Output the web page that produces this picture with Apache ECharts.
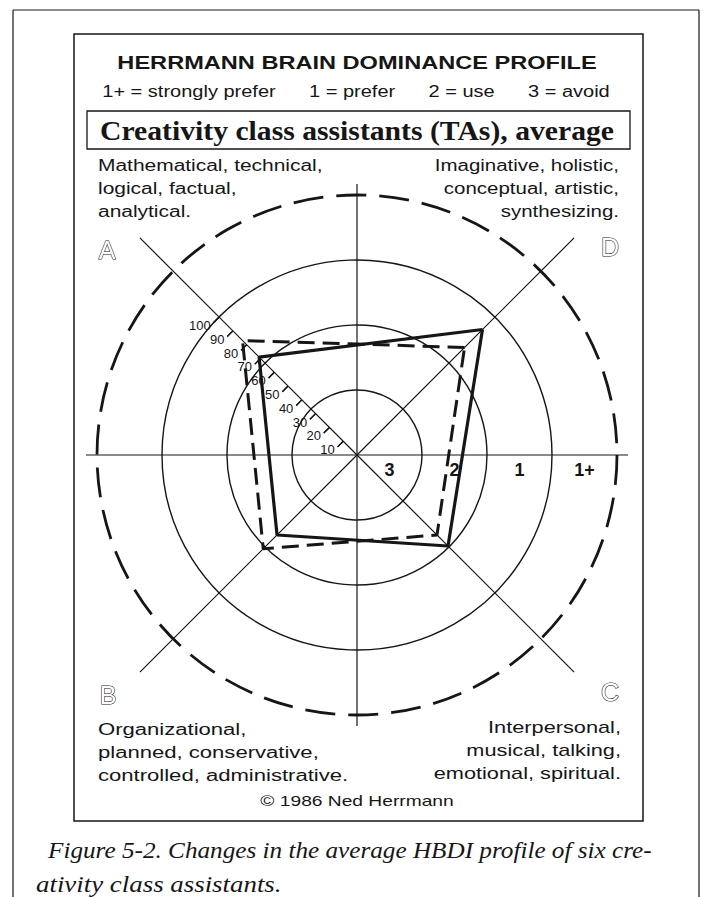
<!DOCTYPE html>
<html>
<head>
<meta charset="utf-8">
<title>Herrmann Brain Dominance Profile</title>
<script src="https://cdn.jsdelivr.net/npm/echarts@6/dist/echarts.min.js"></script>
<style>
  html, body { margin: 0; padding: 0; background: #fff; }
  #chart { width: 703px; height: 897px; }
</style>
</head>
<body>
<div id="chart"></div>
<script>
// quadrants, counter-clockwise starting at upper right
const quadrants = ['D', 'A', 'B', 'C'];
const quadrantAngles = [45, 135, 225, 315];
// average profile, percentile scale (100 = outer solid ring)
const profileSolid = [91, 71, 58, 66];
const profileDashed = [78, 83, 68, 58];
// preference zones from the centre outwards
const zoneLabels = ['3', '2', '1', '1+'];
const percentTicks = [10, 20, 30, 40, 50, 60, 70, 80, 90, 100];

const cx = 357, cy = 455;
const ink = '#161616';
const sans = '"Liberation Sans", Arial, sans-serif';
const serif = '"Liberation Serif", "Times New Roman", serif';

let polars = [], angleAxes = [], radiusAxes = [];

function addPolar(radius, angleOpt, radiusOpt) {
  let idx = polars.length;
  polars.push({ center: [cx, cy], radius: radius });
  angleAxes.push(Object.assign({
    polarIndex: idx, type: 'value', min: 0, max: 360, startAngle: 0, clockwise: false,
    axisLine: { show: false }, axisTick: { show: false },
    axisLabel: { show: false }, splitLine: { show: false }
  }, angleOpt));
  radiusAxes.push(Object.assign({
    polarIndex: idx, type: 'value', min: 0, max: 100,
    axisLine: { show: false }, axisTick: { show: false },
    axisLabel: { show: false }, splitLine: { show: false }
  }, radiusOpt));
  return idx;
}

// outer dashed circle
addPolar(260, {
  axisLine: { show: true, lineStyle: { color: ink, width: 2.8, type: [30, 13] } }
}, {});

// solid rings, one per zone
addPolar(195, {}, {
  max: 3, interval: 1,
  splitLine: { show: true, lineStyle: { color: ink, width: 1.4 } }
});

// percentile scale along the A axis, ticks on both sides
addPolar(195, { startAngle: 135 }, {
  interval: 10,
  axisTick: { show: true, customValues: percentTicks, length: 8, lineStyle: { color: ink, width: 1.3 } },
  axisLabel: { show: true, customValues: percentTicks, margin: 12, color: ink, fontSize: 13, fontFamily: sans }
});
addPolar(195, { startAngle: 135 }, {
  interval: 10,
  axisTick: { show: true, inside: true, customValues: percentTicks, length: 8, lineStyle: { color: ink, width: 1.3 } }
});

// diagonal quadrant axes
addPolar(307, {
  startAngle: 45, interval: 90,
  splitLine: { show: true, lineStyle: { color: ink, width: 1.2 } }
}, {});

// horizontal and vertical axes
addPolar(271, {
  interval: 90,
  splitLine: { show: true, lineStyle: { color: ink, width: 1.2 } }
}, {});

// zone labels along the horizontal axis
addPolar(260, {}, {
  type: 'category', data: zoneLabels, boundaryGap: true, min: null, max: null,
  axisLabel: {
    show: true, margin: -15, verticalAlign: 'middle', color: ink,
    fontSize: 18, fontWeight: 'bold', fontFamily: sans
  }
});

// profile lines
const dataPolar = addPolar(195, {}, {});

function closedPath(values) {
  let pts = values.map((v, i) => [v, quadrantAngles[i]]);
  pts.push(pts[0]);
  return pts;
}

function txt(text, x, y, font, align, sx, extra) {
  return {
    type: 'text', x: x, y: y, z: 10, scaleX: sx || 1,
    style: Object.assign({
      text: text, font: font, fill: ink, align: align || 'left',
      verticalAlign: 'middle', lineHeight: 23
    }, extra || {})
  };
}

function hline(x1, y1, x2, y2, w) {
  return { type: 'line', shape: { x1: x1, y1: y1, x2: x2, y2: y2 }, style: { stroke: ink, lineWidth: w || 1.2 } };
}

const letterStyle = { fill: '#fff', stroke: ink, lineWidth: 1.1 };
const letterPos = { A: [107, 250], D: [610, 247], B: [108, 695], C: [610, 692] };
const bodyFont = '16px ' + sans;

let chart = echarts.init(document.getElementById('chart'), null, { renderer: 'svg' });
chart.setOption({
  animation: false,
  backgroundColor: '#fff',
  polar: polars,
  angleAxis: angleAxes,
  radiusAxis: radiusAxes,
  series: [
    {
      name: 'solid profile', type: 'line', coordinateSystem: 'polar', polarIndex: dataPolar,
      symbol: 'none', data: closedPath(profileSolid),
      lineStyle: { color: ink, width: 3.2 }
    },
    {
      name: 'dashed profile', type: 'line', coordinateSystem: 'polar', polarIndex: dataPolar,
      symbol: 'none', data: closedPath(profileDashed),
      lineStyle: { color: ink, width: 3, type: [17, 8] }
    }
  ],
  graphic: [
    // page frame and figure box
    hline(13, 10, 13, 897, 1.2),
    hline(13, 10, 699, 10, 1.2),
    hline(699, 10, 699, 897, 1.2),
    { type: 'rect', shape: { x: 74, y: 34, width: 569, height: 787 }, style: { fill: 'none', stroke: ink, lineWidth: 1.5 } },
    { type: 'rect', shape: { x: 87, y: 111, width: 543, height: 38 }, style: { fill: 'none', stroke: ink, lineWidth: 1.3 } },

    txt('HERRMANN BRAIN DOMINANCE PROFILE', 357, 63, 'bold 18px ' + sans, 'center', 1.31),
    txt('1+ = strongly prefer      1 = prefer      2 = use      3 = avoid', 356, 92, bodyFont, 'center', 1.25),
    txt('Creativity class assistants (TAs), average', 357, 130, 'bold 28px ' + serif, 'center', 1.06),

    txt('Mathematical, technical,\nlogical, factual,\nanalytical.', 98, 188, bodyFont, 'left', 1.31),
    txt('Imaginative, holistic,\nconceptual, artistic,\nsynthesizing.', 619, 188, bodyFont, 'right', 1.28),
    txt('Organizational,\nplanned, conservative,\ncontrolled, administrative.', 98, 753, bodyFont, 'left', 1.38),
    txt('Interpersonal,\nmusical, talking,\nemotional, spiritual.', 621, 751, bodyFont, 'right', 1.36),

    txt(quadrants[1], letterPos.A[0], letterPos.A[1], '25px ' + sans, 'center', 1, letterStyle),
    txt(quadrants[0], letterPos.D[0], letterPos.D[1], '25px ' + sans, 'center', 1, letterStyle),
    txt(quadrants[2], letterPos.B[0], letterPos.B[1], '25px ' + sans, 'center', 1, letterStyle),
    txt(quadrants[3], letterPos.C[0], letterPos.C[1], '25px ' + sans, 'center', 1, letterStyle),

    txt('\u00a9 1986 Ned Herrmann', 357, 801, '15px ' + sans, 'center', 1.28),

    txt('Figure 5-2. Changes in the average HBDI profile of six cre-', 48, 850, 'italic 24px ' + serif, 'left', 1.05),
    txt('ativity class assistants.', 36, 884, 'italic 24px ' + serif, 'left', 1.12)
  ]
});
</script>
</body>
</html>
